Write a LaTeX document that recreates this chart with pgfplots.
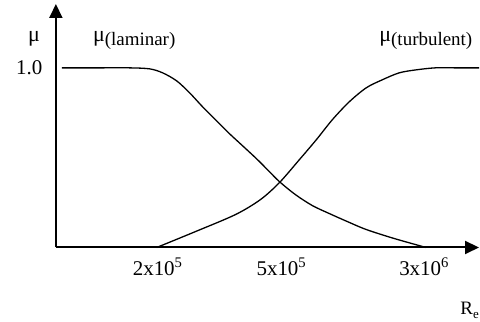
\documentclass[border=0pt]{standalone}
\usepackage{fontspec}
\setmainfont{Liberation Serif}
\usepackage{pgfplots}
\pgfplotsset{compat=1.18}
\usetikzlibrary{arrows.meta}
\begin{document}
\begin{tikzpicture}
  \begin{axis}[
      width=424pt, height=244pt,
      scale only axis,
      xmin=0, xmax=424,
      ymin=0, ymax=244,
      axis lines=left,
      axis line style={line width=2pt, -{Triangle[length=14pt,width=13pt]}},
      major tick length=0pt,
      xtick={102,226,369},
      xticklabels={2x10\textsuperscript{5}, 5x10\textsuperscript{5}, 3x10\textsuperscript{6}},
      ytick={180},
      yticklabels={1.0},
      tick label style={font=\fontsize{21}{24}\selectfont},
      xticklabel style={yshift=-7pt},
      yticklabel style={xshift=-10pt},
      clip=false,
    ]
    % laminar viscosity falls off
    \addplot[black, line width=1.3pt, smooth, tension=0.5] coordinates {
      (6,180) (44,180) (74,180) (94,179) (107,175) (121,167) (134,155)
      (147,141) (161,127) (174,114) (187,102) (201,89) (213,77) (224,66)
      (240,53) (257,42) (274,34) (292,26) (311,18) (339,9) (371,0)};
    % turbulent viscosity builds up
    \addplot[black, line width=1.3pt, smooth, tension=0.5] coordinates {
      (101,0) (140,16) (180,33) (205,48) (224,65) (244,88)
      (261,108) (277,128) (294,146) (311,160) (327,168) (344,175)
      (361,178) (380,180) (400,180) (424,180)};

    \node[anchor=base west, inner sep=0pt, font=\fontsize{22}{24}\selectfont]
      at (axis cs:-28,206) {μ};
    \node[anchor=base west, inner sep=0pt, font=\fontsize{22}{24}\selectfont]
      at (axis cs:37,206) {μ\raisebox{-4pt}{\fontsize{19}{21}\selectfont(laminar)}};
    \node[anchor=base west, inner sep=0pt, font=\fontsize{22}{24}\selectfont]
      at (axis cs:324,206) {μ\raisebox{-4pt}{\fontsize{19}{21}\selectfont(turbulent)}};
    \node[anchor=base east, inner sep=0pt, font=\fontsize{19}{22}\selectfont]
      at (axis cs:424,-67) {R\raisebox{-4pt}{\fontsize{13}{15}\selectfont e}};

    \path (axis cs:-56,-74) rectangle (axis cs:424,248);
  \end{axis}
\end{tikzpicture}
\end{document}
